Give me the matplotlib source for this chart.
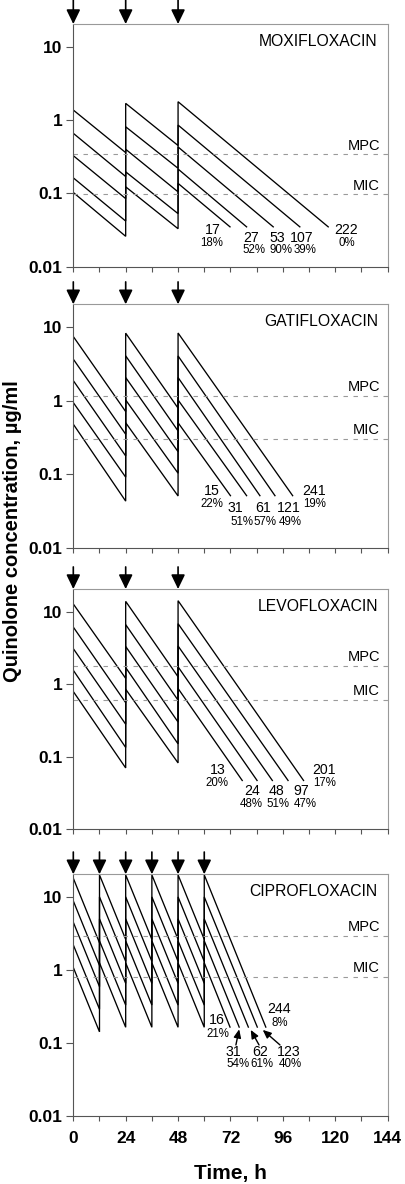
import matplotlib
matplotlib.use('Agg')
import matplotlib.pyplot as plt
from matplotlib.ticker import FixedLocator, NullLocator

plt.rcParams['font.family'] = ['Liberation Sans', 'DejaVu Sans']
plt.rcParams['lines.scale_dashes'] = False

# ---- data (lines listed top to bottom) ----
drug_names = ['MOXIFLOXACIN', 'GATIFLOXACIN', 'LEVOFLOXACIN', 'CIPROFLOXACIN']

moxi_doses = [0, 24, 48]
moxi_peaks = [[1.37, 1.69, 1.78],
              [0.66, 0.81, 0.855],
              [0.327, 0.40, 0.43],
              [0.163, 0.197, 0.215],
              [0.103, 0.123, 0.137]]
moxi_troughs = [[0.36, 0.45],
                [0.17, 0.22],
                [0.085, 0.105],
                [0.042, 0.053],
                [0.026, 0.033]]
moxi_end_t = [116.8, 103.8, 91.6, 79.4, 71.8]
moxi_end_c = 0.035
moxi_mpc, moxi_mic = 0.34, 0.097
moxi_auc = ['222', '107', '53', '27', '17']
moxi_pct = ['0%', '39%', '90%', '52%', '18%']

gati_doses = [0, 24, 48]
gati_peaks = [[7.43, 8.26, 8.3],
              [3.66, 4.06, 4.05],
              [1.87, 2.06, 2.06],
              [0.94, 1.02, 1.02],
              [0.478, 0.50, 0.50]]
gati_troughs = [[0.71, 0.79],
                [0.349, 0.387],
                [0.177, 0.202],
                [0.091, 0.103],
                [0.043, 0.0505]]
gati_end_t = [100.5, 92.4, 85.5, 79.4, 72.0]
gati_end_c = 0.051
gati_mpc, gati_mic = 1.17, 0.30
gati_auc = ['241', '121', '61', '31', '15']
gati_pct = ['19%', '49%', '57%', '51%', '22%']

levo_doses = [0, 24, 48]
levo_peaks = [[12.7, 13.8, 14.1],
              [6.1, 6.6, 6.8],
              [3.08, 3.3, 3.35],
              [1.55, 1.69, 1.73],
              [0.79, 0.85, 0.87]]
levo_troughs = [[1.2, 1.26],
                [0.555, 0.60],
                [0.28, 0.30],
                [0.134, 0.15],
                [0.07, 0.082]]
levo_end_t = [105.5, 98.4, 91.2, 84.2, 77.4]
levo_end_c = 0.047
levo_mpc, levo_mic = 1.78, 0.60
levo_auc = ['201', '97', '48', '24', '13']
levo_pct = ['17%', '47%', '51%', '48%', '20%']

cipro_doses = [0, 12, 24, 36, 48, 60]
cipro_peaks = [[18.0, 20.0, 20.0, 20.0, 20.0, 20.0],
               [8.8, 10.0, 10.0, 10.0, 10.0, 10.0],
               [4.5, 5.0, 5.0, 5.0, 5.0, 5.0],
               [2.2, 2.5, 2.5, 2.5, 2.5, 2.5],
               [1.08, 1.25, 1.25, 1.25, 1.25, 1.25]]
cipro_troughs = [[2.35, 2.62, 2.62, 2.62, 2.62],
                 [1.15, 1.31, 1.31, 1.31, 1.31],
                 [0.59, 0.655, 0.655, 0.655, 0.655],
                 [0.29, 0.33, 0.33, 0.33, 0.33],
                 [0.142, 0.164, 0.164, 0.164, 0.164]]
cipro_end_t = [88.2, 84.3, 80.2, 76.0, 71.8]
cipro_end_c = 0.165
cipro_mpc, cipro_mic = 2.92, 0.81
cipro_auc = ['244', '123', '62', '31', '16']
cipro_pct = ['8%', '40%', '61%', '54%', '21%']

# label placement (time, conc) for number and percent, top line first
moxi_pos = [((124.8, 0.0316), (125.1, 0.0212)), ((104.8, 0.0243), (106.1, 0.0167)),
            ((93.3, 0.0243), (95.0, 0.0167)), ((81.7, 0.0243), (82.8, 0.0167)),
            ((63.7, 0.0316), (63.5, 0.0212))]
gati_pos = [((110.3, 0.0586), (110.7, 0.039)), ((98.8, 0.0347), (99.4, 0.0223)),
            ((87.2, 0.0347), (88.0, 0.0223)), ((74.2, 0.0347), (77.1, 0.0223)),
            ((63.5, 0.0586), (63.4, 0.039))]
levo_pos = [((114.8, 0.0664), (115.3, 0.0436)), ((104.6, 0.0335), (106.1, 0.0225)),
            ((93.2, 0.0335), (93.6, 0.0225)), ((82.0, 0.0335), (81.5, 0.0225)),
            ((66.1, 0.0664), (65.8, 0.0436))]
cipro_pos = [((94.4, 0.29), (94.8, 0.19)), ((98.5, 0.076), (99.6, 0.0516)),
             ((85.5, 0.076), (86.6, 0.0516)), ((73.3, 0.076), (75.3, 0.0516)),
             ((65.7, 0.205), (66.3, 0.134))]
# pointer arrows in ciprofloxacin panel: (tail, head)
cipro_pointers = [((94.7, 0.094), (86.8, 0.151)),
                  ((85.1, 0.094), (81.3, 0.151)),
                  ((74.5, 0.094), (76.0, 0.154))]

panels = [
    (moxi_doses, moxi_peaks, moxi_troughs, moxi_end_t, moxi_end_c, moxi_mpc, moxi_mic, moxi_auc, moxi_pct, moxi_pos),
    (gati_doses, gati_peaks, gati_troughs, gati_end_t, gati_end_c, gati_mpc, gati_mic, gati_auc, gati_pct, gati_pos),
    (levo_doses, levo_peaks, levo_troughs, levo_end_t, levo_end_c, levo_mpc, levo_mic, levo_auc, levo_pct, levo_pos),
    (cipro_doses, cipro_peaks, cipro_troughs, cipro_end_t, cipro_end_c, cipro_mpc, cipro_mic, cipro_auc, cipro_pct, cipro_pos),
]

# axes boxes in figure fraction: left, bottom, width, height
boxes = [(0.181, 0.7747, 0.776, 0.2050),
         (0.181, 0.5374, 0.776, 0.2056),
         (0.181, 0.2996, 0.776, 0.2029),
         (0.181, 0.0574, 0.776, 0.2042)]

fig = plt.figure(figsize=(4.05, 11.84), dpi=100)

for i, (doses, peaks, troughs, end_t, end_c, mpc, mic, auc, pct, pos) in enumerate(panels):
    ax = fig.add_axes(boxes[i])
    ax.set_yscale('log')
    ax.set_ylim(0.01, 20.4)
    ax.set_xlim(0, 144)

    for k in range(len(peaks)):
        ts, cs = [], []
        for j, d in enumerate(doses):
            ts.append(d)
            cs.append(peaks[k][j])
            if j + 1 < len(doses):
                ts.append(doses[j + 1])
                cs.append(troughs[k][j])
        ts.append(end_t[k])
        cs.append(end_c)
        ax.plot(ts, cs, color='black', lw=0.95, solid_joinstyle='miter')

    for level, name in [(mpc, 'MPC'), (mic, 'MIC')]:
        ax.axhline(level, color='#9a9a9a', lw=0.8, ls=(0, (3.2, 4.0)))
        ax.annotate(name, xy=(0.976, level), xycoords=('axes fraction', 'data'),
                    xytext=(0, 6.3), textcoords='offset points',
                    ha='right', va='center', fontsize=10.5)

    ax.text(0.969, 0.928, drug_names[i], transform=ax.transAxes,
            ha='right', va='center', fontsize=11.3)

    for k in range(len(auc)):
        (nx, ny), (px, py) = pos[k]
        ax.text(nx, ny, auc[k], ha='center', va='center', fontsize=10.2)
        ax.text(px, py, pct[k], ha='center', va='center', fontsize=8.3)

    if i == 3:
        for tail, head in cipro_pointers:
            ax.annotate('', xy=head, xytext=tail,
                        arrowprops=dict(arrowstyle='-|>,head_length=0.5,head_width=0.22',
                                        color='black', lw=1.0, mutation_scale=10,
                                        shrinkA=0, shrinkB=0))

    # dose arrows above the frame
    top = 1.099 if i == 0 else 1.092
    for d in doses:
        ax.annotate('', xy=(d, 1.0), xycoords=('data', 'axes fraction'),
                    xytext=(d, top), textcoords=('data', 'axes fraction'),
                    arrowprops=dict(arrowstyle='-|>,head_length=0.62,head_width=0.3',
                                    color='black', lw=1.2, mutation_scale=14,
                                    shrinkA=0, shrinkB=0),
                    annotation_clip=False)

    ax.yaxis.set_major_locator(FixedLocator([0.01, 0.1, 1, 10]))
    ax.yaxis.set_minor_locator(NullLocator())
    ax.set_yticklabels(['0.01', '0.1', '1', '10'], fontsize=12.5, fontweight='bold')
    ax.set_xticks(range(0, 145, 24))
    ax.set_xticks(range(12, 145, 24), minor=True)
    ax.tick_params(axis='y', direction='out', length=5, width=0.8, color='#555', pad=3)
    ax.tick_params(axis='x', which='both', direction='out', length=3.5, width=0.8, color='#555')
    if i == 3:
        ax.set_xticklabels([str(v) for v in range(0, 145, 24)], fontsize=12.5, fontweight='bold')
        ax.tick_params(axis='x', pad=7)
        ax.set_xlabel('Time, h', fontsize=15, fontweight='bold', labelpad=13)
    else:
        ax.set_xticklabels([])

    for side in ['left', 'bottom']:
        ax.spines[side].set_color('#555')
        ax.spines[side].set_linewidth(0.8)
    for side in ['top', 'right']:
        ax.spines[side].set_color('#999')
        ax.spines[side].set_linewidth(0.8)

fig.text(0.03, 0.5515, 'Quinolone concentration, µg/ml', rotation=90,
         ha='center', va='center', fontsize=14.5, fontweight='bold')

fig.savefig('out.png', dpi=100)
